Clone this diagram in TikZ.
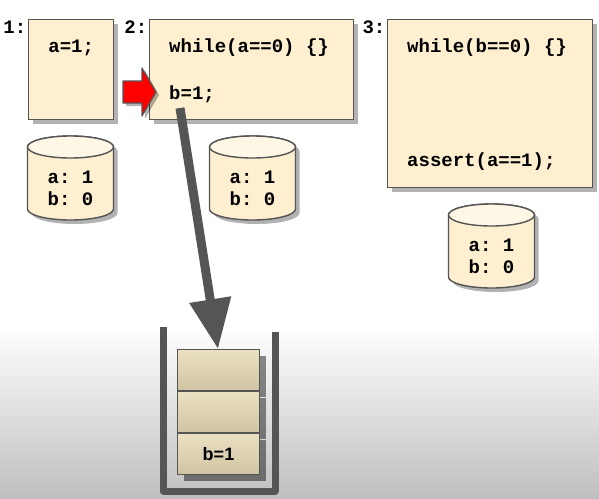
\documentclass[tikz,border=0pt]{standalone}
\usepackage{fontspec}
\setmainfont{Liberation Sans}
\setmonofont{Liberation Mono}
\usetikzlibrary{calc,shadows,arrows.meta}
\definecolor{cream}{HTML}{FDEFCF}
\definecolor{creamtop}{HTML}{FFF7E6}
\definecolor{edge}{HTML}{555555}
\definecolor{slot}{HTML}{E6D9B4}
\newcommand{\code}{\ttfamily\bfseries\fontsize{19}{22}\selectfont}
% outline of a memory drum round its centre
\newcommand{\drumpath}[1]{($(#1)+(-43,-31)$) -- ++(0,62)
    arc[start angle=180,end angle=0,x radius=43,y radius=11] -- ++(0,-62)
    arc[start angle=0,end angle=-180,x radius=43,y radius=11] -- cycle}
% outline of the program counter, tip to the right
\newcommand{\pcpath}[1]{($(#1)+(-19,-11)$) -- ($(#1)+(0,-11)$) -- ($(#1)+(0,-24)$)
    -- ($(#1)+(14,0)$) -- ($(#1)+(0,24)$) -- ($(#1)+(0,11)$) -- ($(#1)+(-19,11)$) -- cycle}

\begin{document}
\begin{tikzpicture}[x=1pt,y=-1pt,
    every node/.style={inner sep=0pt},
    codebox/.style={draw=edge,line width=1.4pt,fill=cream,anchor=north west,
        drop shadow={shadow xshift=4pt,shadow yshift=-4pt,fill=black,opacity=0.3}},
    codeline/.style={anchor=west,font=\code},
    tid/.style={anchor=north east,inner sep=1.5pt,font=\code},
    memory/.style={draw=edge,line width=1.4pt,fill=cream},
    memtext/.style={align=left,font=\code},
    shade off/.style={fill=black,opacity=0.3},
    slotbox/.style={draw=edge,line width=1pt,anchor=north west,
        minimum width=82pt,minimum height=41pt,
        top color=slot!80!white,bottom color=slot!90!black,
        drop shadow={shadow xshift=6pt,shadow yshift=-6pt,fill=black,opacity=0.45}},
    ]

    % Background
    \fill[white] (0,0) rectangle (599,498);
    \shade[top color=white,bottom color=black!25] (0,325) rectangle (599,498);
    \useasboundingbox (0,0) rectangle (599,498);

    % Threads
    \node (t1) [codebox,minimum width=85pt,minimum height=100pt] at (28,19) {};
    \node (t2) [codebox,minimum width=204pt,minimum height=100pt] at (149,19) {};
    \node (t3) [codebox,minimum width=205pt,minimum height=168pt] at (387,19) {};

    \node (n1) [tid] at (t1.north west) {1:};
    \node (n2) [tid] at (t2.north west) {2:};
    \node (n3) [tid] at (t3.north west) {3:};

    \node (a1) [font=\code] at ($(t1.north)+(0,29)$) {a=1;};
    \node (w2) [codeline] at (169,48) {while(a==0) \{\}};
    \node (b1) [codeline] at (169,94) {b=1;};
    \node (w3) [codeline] at (407,48) {while(b==0) \{\}};
    \node (as3) [codeline] at (407,162) {assert(a==1);};

    % Program counter
    \coordinate (pc) at (142,92);
    \coordinate (pcs) at (145,95);
    \fill[shade off] \pcpath{pcs};
    \filldraw[fill=red,draw=edge,line width=1.2pt,line join=round] \pcpath{pc};

    % Memories
    \foreach \m/\x/\y in {m1/70.5/178, m2/252.5/178, m3/491.5/246} {
        \coordinate (\m) at (\x,\y);
        \coordinate (\m s) at (\x+4,\y+4);
        \fill[shade off] \drumpath{\m s};
        \filldraw[memory] \drumpath{\m};
        \filldraw[memory,fill=creamtop] ($(\m)+(0,-31)$) ellipse[x radius=43,y radius=11];
        \node (\m t) [memtext] at ($(\m)+(0,10)$) {a: 1\\b: 0};
    }

    % Store buffer
    \coordinate (from) at (180,108);
    \coordinate (to) at (218,349);
    \draw[edge,line width=9pt,-{Triangle[width=40pt,length=50pt]}] (from) -- (to);

    \draw[edge,line width=7pt,line join=round] (163,327) -- (163,491) -- (275,491) -- (275,332);

    \node (s1) [slotbox] at (177,349) {};
    \node (s2) [slotbox] at (s1.south west) {};
    \node (s3) [slotbox,font=\bfseries\fontsize{18}{22}\selectfont] at (s2.south west) {b=1};

\end{tikzpicture}
\end{document}
